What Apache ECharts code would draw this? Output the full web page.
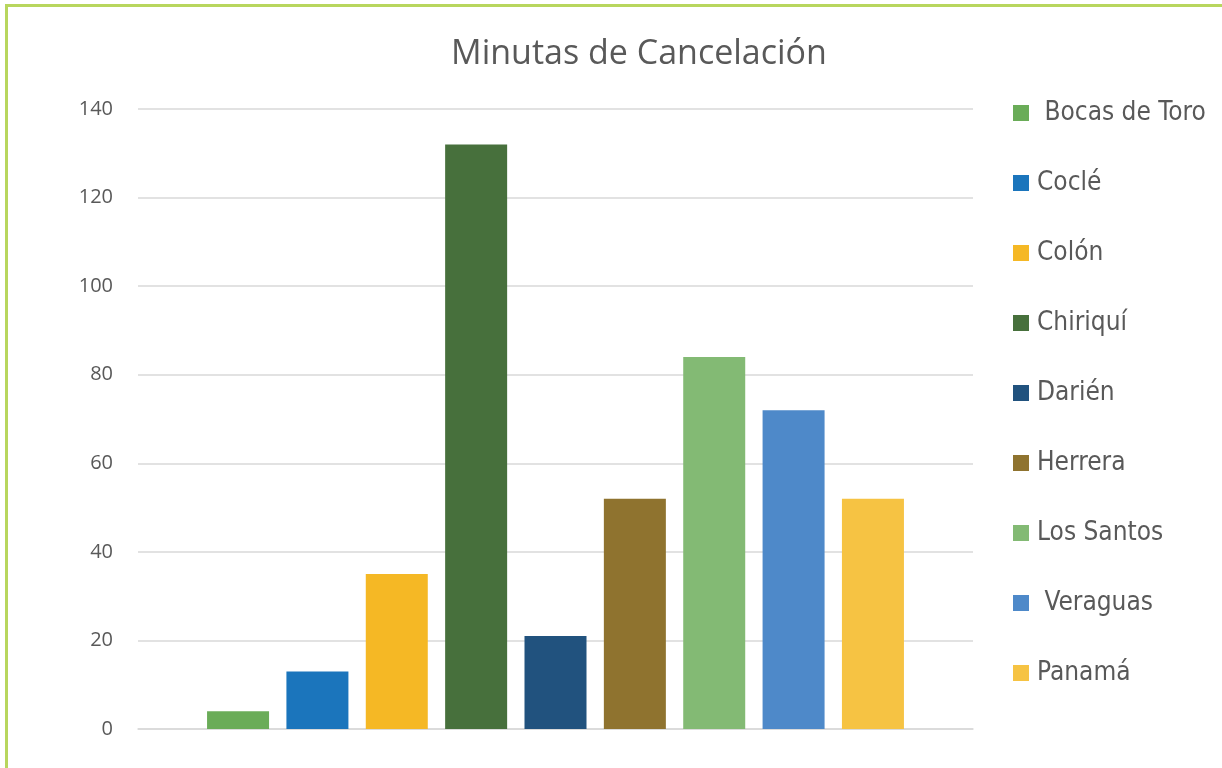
<!DOCTYPE html>
<html>
<head>
<meta charset="utf-8">
<script src="https://cdn.jsdelivr.net/npm/echarts@6/dist/echarts.min.js"></script>
<style>
  html, body { margin: 0; padding: 0; background: #ffffff; }
  #chart { position: absolute; left: 0; top: 0; width: 1222px; height: 768px; }
  #frame { position: absolute; left: 5px; top: 4px; width: 1230px; height: 800px;
           border-top: 3px solid #b8d65e; border-left: 3px solid #b8d65e; pointer-events: none; }
</style>
</head>
<body>
<div id="chart"></div>
<div id="frame"></div>
<script>
const titleText = "Minutas de Cancelación";
const provinces = [" Bocas de Toro", "Coclé", "Colón", "Chiriquí", "Darién", "Herrera", "Los Santos", " Veraguas", "Panamá"];
const minutes = [4, 13, 35, 132, 21, 52, 84, 72, 52];
const colors = ["#6aac58", "#1b75bc", "#f5b825", "#47703c", "#21527e", "#8f732f", "#83ba74", "#4e89c9", "#f6c343"];
const yTicks = { min: 0, max: 140, interval: 20 };

const chart = echarts.init(document.getElementById('chart'), null, { renderer: 'canvas' });

const series = provinces.map((name, i) => ({
  name: name,
  type: 'bar',
  data: [minutes[i]],
  barWidth: 62,
  barGap: '28%',
  itemStyle: { color: colors[i] },
  emphasis: { disabled: true }
}));

chart.setOption({
  animation: false,
  backgroundColor: '#ffffff',
  color: colors,
  title: {
    text: titleText,
    left: 634,
    textAlign: 'center',
    top: 32,
    textStyle: { fontFamily: 'Open Sans', fontSize: 34, fontWeight: 'normal', color: '#595959' }
  },
  legend: {
    orient: 'vertical',
    left: 1013,
    top: 98,
    padding: 0,
    itemWidth: 16,
    itemHeight: 16,
    itemGap: 40,
    icon: 'rect',
    data: provinces,
    textStyle: {
      fontFamily: 'Liberation Sans Narrow, DejaVu Sans Condensed, sans-serif',
      fontSize: 26,
      lineHeight: 30,
      color: '#595959',
      padding: [0, 0, 0, 3]
    }
  },
  grid: { left: 138, right: 249, top: 109, bottom: 39, containLabel: false },
  xAxis: {
    type: 'category',
    data: [''],
    axisLine: { show: true, lineStyle: { color: '#d9d9d9', width: 1.5 } },
    axisTick: { show: false },
    axisLabel: { show: false }
  },
  yAxis: {
    type: 'value',
    min: yTicks.min,
    max: yTicks.max,
    interval: yTicks.interval,
    axisLine: { show: false },
    axisTick: { show: false },
    splitLine: { lineStyle: { color: '#d9d9d9', width: 1.5 } },
    axisLabel: { margin: 25, fontFamily: 'Open Sans', fontSize: 20, color: '#595959' }
  },
  series: series
});
</script>
</body>
</html>
